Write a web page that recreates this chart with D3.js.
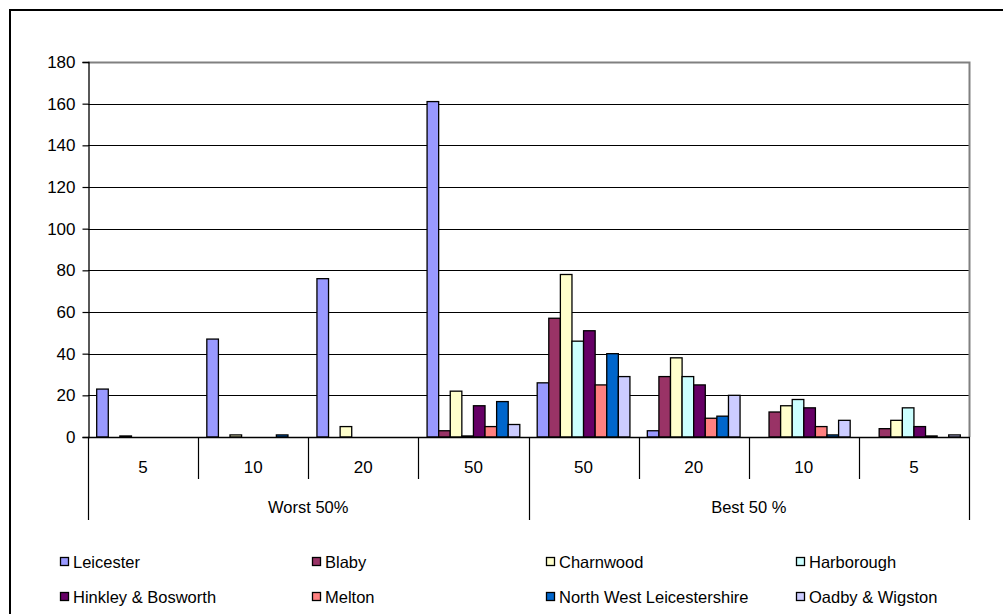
<!DOCTYPE html>
<html>
<head>
<meta charset="utf-8">
<script src="https://cdn.jsdelivr.net/npm/d3@7"></script>
<style>
  html, body { margin: 0; padding: 0; background: #fff; }
  svg { display: block; font-family: "Liberation Sans", Arial, sans-serif; }
</style>
</head>
<body>
<svg id="chart" width="1003" height="614"></svg>
<script>
// ---- data ----
const groupKeys = ["W5", "W10", "W20", "W50", "B50", "B20", "B10", "B5"];
const groupLabels = ["5", "10", "20", "50", "50", "20", "10", "5"];
const superLabels = ["Worst 50%", "Best 50 %"];
const seriesNames = ["Leicester", "Blaby", "Charnwood", "Harborough",
  "Hinkley & Bosworth", "Melton", "North West Leicestershire", "Oadby & Wigston"];
const seriesColors = ["#9999FF", "#993366", "#FFFFCC", "#CCFFFF",
  "#660066", "#FF8080", "#0066CC", "#CCCCFF"];
const leicester  = [23, 47, 76, 161, 26, 3, 0, 0];
const blaby      = [0, 0, 0, 3, 57, 29, 12, 4];
const charnwood  = [0.5, 1, 5, 22, 78, 38, 15, 8];
const harborough = [0, 0, 0, 0.5, 46, 29, 18, 14];
const hinkley    = [0, 0, 0, 15, 51, 25, 14, 5];
const melton     = [0, 0, 0, 5, 25, 9, 5, 0.5];
const nwLeics    = [0, 1, 0, 17, 40, 10, 1, 0];
const oadby      = [0, 0, 0, 6, 29, 20, 8, 1];
const yTicks = [0, 20, 40, 60, 80, 100, 120, 140, 160, 180];

const seriesValues = [leicester, blaby, charnwood, harborough, hinkley, melton, nwLeics, oadby];

// ---- layout ----
const svg = d3.select("#chart");
const L = 88, R = 969, T = 62, B = 437;

// outer border
svg.append("rect").attr("x", 10).attr("y", 10).attr("width", 1100).attr("height", 700)
  .attr("fill", "none").attr("stroke", "#000").attr("stroke-width", 2);

const y = d3.scaleLinear().domain([0, 180]).range([B, T]);
const x0 = d3.scaleBand().domain(groupKeys).range([L, R]).padding(0);
const gw = x0.bandwidth();
const bw = gw / (seriesNames.length + 1.5);
const x1 = d3.scaleBand().domain(d3.range(seriesNames.length))
  .range([0.75 * bw, gw - 0.75 * bw]).padding(0);

// gridlines
svg.append("g").selectAll("line").data(yTicks.filter(t => t > 0 && t < 180)).join("line")
  .attr("x1", L).attr("x2", R)
  .attr("y1", d => Math.round(y(d)) + 0.5).attr("y2", d => Math.round(y(d)) + 0.5)
  .attr("stroke", "#000").attr("stroke-width", 1.2);

// plot area top & right border (gray)
svg.append("path")
  .attr("d", `M${L},${Math.round(T) + 0.5}H${R + 0.5}V${B}`)
  .attr("fill", "none").attr("stroke", "#808080").attr("stroke-width", 2);

// bars
const barData = [];
groupKeys.forEach((g, gi) => {
  seriesValues.forEach((vals, si) => {
    const v = vals[gi];
    if (v > 0) barData.push({ g, si, v });
  });
});
svg.append("g").selectAll("rect").data(barData).join("rect")
  .attr("x", d => x0(d.g) + x1(d.si))
  .attr("y", d => y(d.v))
  .attr("width", x1.bandwidth())
  .attr("height", d => y(0) - y(d.v))
  .attr("fill", d => seriesColors[d.si])
  .attr("stroke", "#000").attr("stroke-width", 1.3);

// y axis
const yAxis = d3.axisLeft(y).tickValues(yTicks).tickSize(6).tickPadding(7);
const ga = svg.append("g").attr("transform", `translate(${L + 0.5},0)`).call(yAxis);
ga.select(".domain").attr("stroke", "#000").attr("stroke-width", 1.3);
ga.selectAll(".tick line").attr("stroke", "#000").attr("stroke-width", 1.2);
ga.selectAll(".tick text").attr("font-size", 17).attr("fill", "#000")
  .attr("font-family", "Liberation Sans, Arial, sans-serif");

// x axis baseline
svg.append("line").attr("x1", L).attr("x2", R + 1)
  .attr("y1", B + 0.5).attr("y2", B + 0.5).attr("stroke", "#000").attr("stroke-width", 1.5);

// category separators
const seps = d3.range(groupKeys.length + 1).map(i => i === groupKeys.length ? R : x0(groupKeys[i]));
svg.append("g").selectAll("line").data(seps).join("line")
  .attr("x1", d => Math.round(d) + 0.5).attr("x2", d => Math.round(d) + 0.5)
  .attr("y1", B)
  .attr("y2", (d, i) => (i === 0 || i === 4 || i === 8) ? 520 : 479)
  .attr("stroke", "#000").attr("stroke-width", 1.2);

// category labels
svg.append("g").selectAll("text").data(groupKeys).join("text")
  .attr("x", d => x0(d) + gw / 2).attr("y", 473)
  .attr("text-anchor", "middle").attr("font-size", 17).attr("fill", "#000")
  .text((d, i) => groupLabels[i]);

// super labels
svg.append("g").selectAll("text").data(superLabels).join("text")
  .attr("x", (d, i) => (x0(groupKeys[i * 4]) + (i === 0 ? x0(groupKeys[4]) : R)) / 2)
  .attr("y", 513)
  .attr("text-anchor", "middle").attr("font-size", 16.5).attr("fill", "#000")
  .text(d => d);

// legend
const legX = [60, 312, 546, 796];
const legY = [562, 597];
const leg = svg.append("g").selectAll("g").data(seriesNames).join("g")
  .attr("transform", (d, i) => `translate(${legX[i % 4]},${legY[Math.floor(i / 4)]})`);
leg.append("rect").attr("x", 0.5).attr("y", -4.5).attr("width", 8).attr("height", 8)
  .attr("fill", (d, i) => seriesColors[i]).attr("stroke", "#000").attr("stroke-width", 1.3);
leg.append("text").attr("x", 13).attr("y", 6).attr("font-size", 16.5).attr("fill", "#000")
  .text(d => d);
</script>
</body>
</html>
